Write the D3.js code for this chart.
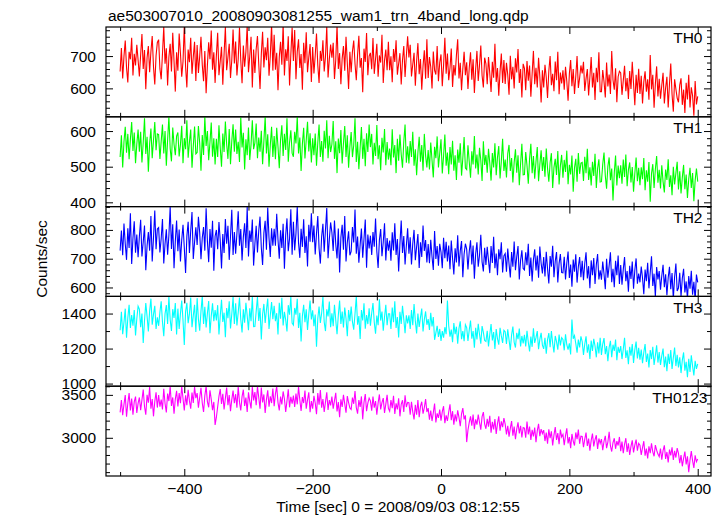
<!DOCTYPE html>
<html><head><meta charset="utf-8">
<script src="https://cdn.jsdelivr.net/npm/d3@7"></script>
<style>body{margin:0;background:#fff} svg text{font-family:"Liberation Sans",Arial,Helvetica,sans-serif}</style>
</head><body><svg id="c" width="724" height="516"></svg>
<script>
const chartTitle = "ae503007010_20080903081255_wam1_trn_4band_long.qdp";
const xLabel = "Time [sec] 0 = 2008/09/03 08:12:55";
const yLabel = "Counts/sec";
const panelNames = ["TH0", "TH1", "TH2", "TH3", "TH0123"];
const tStart = -500, tStep = 2;

const th0 = [
652,725,631,699,748,664,618,713,690,757,640,707,671,735,688,
637,704,768,660,719,597,695,731,650,714,762,667,612,701,742,
751,661,628,707,790,676,724,609,697,738,652,772,684,590,712,
655,770,709,636,683,795,668,603,720,681,757,645,698,744,623,
734,648,699,760,673,622,716,585,672,743,690,779,658,712,617,
703,772,641,684,729,611,707,790,656,696,738,632,688,782,677,
745,640,691,788,686,616,733,667,713,795,650,699,760,603,720,
648,721,762,676,598,706,775,665,727,687,757,639,701,798,655,
766,658,710,594,697,744,673,800,640,721,685,761,609,705,788,
685,781,628,713,752,663,706,596,741,678,774,650,696,737,620,
728,646,702,770,672,617,716,685,749,652,699,792,634,690,736,
695,741,629,688,795,660,709,613,693,731,655,760,678,598,713,
650,714,748,676,625,703,763,664,694,588,723,682,771,641,700,
710,659,756,645,691,738,636,702,680,766,617,687,720,656,744,
656,699,619,722,682,749,642,677,709,612,687,731,635,700,761,
696,735,637,674,710,608,684,740,644,691,596,669,718,630,752,
632,697,667,600,714,656,643,731,622,680,705,607,672,757,645,
708,625,663,723,604,672,640,702,752,631,679,594,661,713,641,
681,598,664,712,627,690,586,659,716,623,672,733,640,603,695,
676,613,697,646,589,682,633,738,620,663,577,652,708,617,688,
614,679,642,580,701,628,667,600,693,649,722,617,660,572,676,
662,594,685,624,671,574,645,716,613,664,603,695,636,556,656,
603,673,634,570,654,700,610,645,591,683,625,713,582,649,615,
656,596,667,622,562,645,688,607,660,583,637,700,601,632,671,
646,682,592,630,660,578,636,697,603,648,564,664,619,712,590,
590,657,621,572,680,606,643,583,716,626,596,662,557,636,653,
648,580,624,670,591,632,567,654,598,682,615,548,642,586,661,
583,639,553,620,653,590,628,565,703,597,642,540,614,668,575,
630,568,609,648,553,602,636,541,613,677,582,528,628,598,570,
557,610,631,549,596,524,617,566,642,541,603,578,515,623,550,
575];

const th1 = [
527,588,498,570,612,539,592,521,577,625,544,596,510,563,604,
542,598,512,568,636,536,584,486,565,607,524,574,625,546,592,
590,522,571,618,537,600,503,575,640,551,515,610,563,532,586,
596,529,562,615,510,580,549,630,525,569,604,497,557,613,536,
540,614,566,489,589,533,640,558,600,518,569,624,528,580,506,
578,527,616,553,500,593,541,627,563,522,606,507,572,619,542,
604,536,570,513,638,554,595,492,577,532,610,519,562,630,549,
567,621,524,582,542,601,507,571,640,537,591,500,560,612,527,
586,521,609,556,496,576,616,530,592,547,636,514,568,602,538,
528,598,565,640,537,582,488,564,609,523,575,626,543,594,512,
580,532,593,503,567,618,527,572,514,601,551,630,524,587,541,
563,628,522,571,482,579,538,603,509,565,614,527,588,497,556,
597,527,560,636,513,570,493,553,611,522,578,501,594,541,618,
555,592,506,567,530,617,521,560,490,581,540,606,504,569,520,
551,504,605,526,561,482,578,517,590,534,497,570,618,511,557,
509,572,527,598,503,549,476,540,584,514,561,489,592,531,498,
547,492,568,518,470,556,524,585,498,537,577,481,530,590,503,
540,479,555,506,573,489,532,463,548,511,566,475,524,583,496,
492,560,514,469,543,506,586,495,534,478,553,518,460,571,505,
533,483,550,510,461,538,498,566,476,526,558,467,515,578,488,
520,470,537,561,488,524,456,512,549,483,532,448,508,564,477,
478,541,503,452,522,564,482,530,466,514,555,459,506,546,488,
527,472,551,495,458,511,538,440,498,522,477,544,450,503,533,
469,519,485,545,451,505,478,531,430,497,522,458,538,480,510,
512,460,528,482,550,463,498,447,514,474,536,440,495,521,457,
458,507,540,475,438,501,526,462,495,405,483,531,447,503,468,
504,452,520,471,534,445,491,512,456,499,430,481,526,459,497,
448,498,465,524,434,490,458,513,402,481,507,440,493,530,455,
491,439,504,458,428,492,463,521,443,476,420,500,450,482,514,
436,487,425,470,505,437,478,412,465,497,440,482,403,461,495,
458];

const th2 = [
728,798,712,822,752,696,806,737,858,682,771,830,721,784,705,
777,835,708,758,815,660,745,793,728,848,690,772,867,733,803,
808,722,770,838,683,752,802,714,781,880,734,820,667,761,833,
726,801,690,765,818,738,650,778,828,720,797,862,699,758,809,
748,846,790,698,773,810,728,875,761,688,803,738,832,658,778,
800,733,827,763,666,786,720,838,752,814,696,777,870,713,793,
717,787,865,745,803,694,775,823,737,880,708,798,758,836,676,
751,814,722,797,846,739,678,789,832,731,878,772,706,806,745,
804,745,856,766,700,799,737,821,665,782,840,726,770,872,714,
828,729,788,880,755,703,804,741,837,720,778,673,818,759,858,
757,815,715,787,848,736,683,776,821,724,801,876,702,767,826,
791,727,833,750,701,805,652,774,818,731,848,690,757,795,712,
725,810,756,871,717,777,686,748,805,703,769,836,669,784,736,
780,713,793,742,840,725,668,765,803,709,757,823,694,772,728,
763,693,792,729,823,713,768,656,751,833,720,779,680,745,806,
717,774,680,753,800,695,742,786,668,757,706,815,727,765,687,
751,684,766,707,661,796,699,744,676,752,723,667,773,702,759,
690,746,663,763,701,645,736,687,781,673,727,761,636,716,752,
733,663,725,764,680,746,630,717,757,672,712,783,689,656,738,
678,741,694,650,744,685,776,667,718,643,733,698,757,652,710,
718,655,735,682,635,723,672,760,660,707,744,628,694,729,666,
661,722,677,752,640,704,621,696,733,659,711,634,742,684,649,
706,638,724,665,614,709,672,745,636,691,723,617,684,716,652,
651,707,628,684,725,633,680,603,697,655,715,617,672,706,636,
693,625,684,722,631,674,597,694,643,702,612,679,716,628,660,
627,690,647,594,700,634,676,722,618,665,601,693,643,711,612,
678,610,663,706,622,657,585,675,630,690,596,660,701,613,648,
618,673,633,577,662,622,686,597,652,708,605,648,568,671,628,
657,592,640,679,601,646,573,634,672,594,650,560,637,683,588,
598,651,568,632,665,583,621,560,640,596,658,575,620,556,645,
618];

const th3 = [
1305,1410,1282,1350,1428,1262,1375,1450,1318,1392,1330,1420,1275,1370,1442,
1425,1322,1400,1232,1360,1460,1384,1298,1414,1485,1336,1395,1444,1312,1378,
1330,1408,1470,1352,1270,1398,1448,1340,1497,1366,1300,1425,1375,1460,1280,
1428,1312,1400,1474,1360,1220,1410,1462,1345,1398,1492,1322,1388,1450,1295,
1488,1368,1302,1414,1498,1340,1438,1320,1400,1472,1288,1386,1458,1356,1420,
1360,1448,1280,1386,1478,1352,1405,1265,1432,1374,1470,1315,1396,1495,1340,
1458,1332,1406,1492,1366,1292,1424,1348,1462,1388,1305,1430,1356,1496,1325,
1326,1412,1495,1358,1432,1252,1395,1455,1346,1420,1486,1312,1390,1466,1368,
1444,1356,1402,1280,1462,1370,1490,1332,1410,1364,1298,1448,1394,1496,1346,
1334,1432,1394,1484,1318,1404,1240,1386,1450,1350,1424,1306,1398,1474,1366,
1418,1328,1394,1210,1370,1440,1346,1402,1494,1352,1300,1424,1384,1468,1322,
1402,1328,1450,1362,1282,1390,1475,1340,1412,1320,1434,1370,1270,1420,1356,
1440,1354,1308,1398,1497,1336,1386,1255,1420,1360,1458,1314,1392,1340,1430,
1330,1402,1460,1350,1285,1388,1334,1482,1360,1412,1302,1380,1450,1334,1398,
1398,1312,1434,1350,1470,1318,1380,1264,1410,1340,1444,1368,1288,1390,1344,
1390,1312,1420,1334,1455,1358,1286,1400,1324,1378,1428,1298,1366,1412,1336,
1368,1306,1404,1326,1380,1250,1290,1330,1266,1312,1244,1300,1262,1322,1282,
1475,1330,1268,1308,1236,1346,1282,1325,1228,1315,1356,1254,1300,1242,1336,
1320,1244,1306,1360,1256,1300,1205,1318,1252,1342,1282,1228,1328,1292,1246,
1240,1302,1212,1280,1340,1246,1294,1198,1312,1256,1222,1318,1272,1232,1304,
1296,1226,1310,1250,1192,1278,1326,1236,1206,1290,1254,1314,1212,1272,1230,
1278,1212,1302,1236,1184,1268,1210,1316,1232,1262,1300,1196,1252,1290,1220,
1198,1262,1170,1252,1288,1208,1300,1230,1178,1272,1240,1194,1280,1218,1262,
1252,1190,1282,1222,1194,1230,1166,1366,1256,1274,1230,1176,1252,1206,1270,
1240,1164,1226,1270,1176,1224,1140,1246,1186,1256,1214,1150,1236,1172,1262,
1164,1226,1260,1168,1214,1128,1206,1244,1150,1222,1186,1252,1134,1210,1176,
1214,1140,1196,1262,1146,1190,1110,1210,1160,1226,1118,1194,1240,1144,1204,
1136,1194,1116,1178,1226,1124,1172,1092,1192,1140,1210,1106,1160,1218,1120,
1180,1106,1158,1200,1094,1154,1070,1170,1112,1192,1084,1148,1206,1100,1164,
1092,1150,1060,1134,1178,1074,1124,1036,1142,1066,1162,1100,1046,1130,1084,
1112];

const th0123 = [
3296,3440,3262,3390,3498,3245,3402,3520,3318,3456,3270,3418,3480,3290,3400,
3470,3322,3440,3562,3365,3268,3500,3410,3590,3338,3452,3250,3422,3530,3352,
3498,3362,3445,3330,3572,3400,3296,3515,3428,3600,3372,3470,3280,3450,3548,
3365,3520,3402,3600,3458,3318,3495,3380,3560,3430,3340,3528,3405,3590,3462,
3520,3350,3470,3582,3405,3300,3490,3600,3422,3355,3552,3448,3322,3418,3150,
3240,3362,3482,3568,3395,3512,3330,3460,3585,3380,3498,3310,3445,3550,3402,
3508,3350,3596,3415,3318,3480,3560,3372,3468,3300,3530,3424,3342,3590,3436,
3532,3380,3600,3470,3338,3585,3412,3505,3288,3448,3552,3362,3482,3405,3575,
3368,3512,3598,3410,3320,3480,3388,3540,3455,3300,3430,3565,3355,3478,3398,
3492,3360,3515,3390,3595,3440,3312,3475,3405,3550,3338,3442,3530,3298,3428,
3340,3488,3405,3275,3522,3385,3555,3350,3452,3300,3418,3530,3325,3440,3378,
3480,3340,3432,3525,3306,3415,3240,3448,3360,3500,3395,3292,3485,3410,3348,
3330,3468,3396,3545,3352,3282,3440,3360,3482,3215,3412,3510,3310,3404,3462,
3430,3315,3480,3350,3428,3270,3405,3505,3330,3410,3462,3290,3392,3500,3342,
3310,3440,3345,3490,3278,3402,3330,3460,3250,3390,3438,3300,3495,3358,3412,
3408,3270,3420,3302,3215,3385,3268,3440,3240,3365,3420,3280,3352,3450,3300,
3345,3210,3318,3195,3292,3400,3180,3285,3232,3330,3200,3305,3368,3170,3262,
3196,3300,3390,3205,3310,3152,3274,3190,3320,3238,3135,3280,3345,3215,3262,
2950,3090,3180,3250,3140,3272,3100,3215,3152,3270,3180,3095,3246,3300,3160,
3105,3222,3130,3255,3060,3185,3098,3218,3045,3165,3250,3084,3192,3125,3230,
3160,3040,3140,3012,3110,3195,3025,3130,2985,3100,3180,3050,3140,3005,3120,
3112,3000,3190,3040,3130,2975,3092,3015,3120,2950,3080,3162,3020,3102,3050,
3090,2962,3060,2930,3100,2995,3075,2912,3032,3125,2975,3055,2925,3095,3010,
3040,2915,3025,3110,2935,3008,2880,3045,2962,2910,3062,2985,3095,2930,3018,
3015,2890,2985,3060,2905,2990,2850,2970,3050,2900,2980,3030,2870,2992,2935,
2985,2855,2960,3022,2880,2950,3070,2905,2840,2945,2995,2872,2962,2910,3010,
2845,2955,2820,2925,2995,2835,2935,2800,2900,2970,2830,2915,2980,2850,2935,
2915,2800,2885,2960,2792,2875,2760,2900,2820,2935,2835,2785,2915,2855,2810,
2780,2875,2745,2850,2912,2755,2835,2712,2862,2795,2890,2742,2848,2770,2880,
2820,2705,2800,2668,2760,2840,2690,2785,2600,2740,2845,2735,2650,2795,2720,
2752];

const yDomains = [[512, 790], [388, 640], [569, 881], [985, 1498], [2555, 3601]];
const yMajorTicks = [[600, 700], [400, 500, 600], [600, 700, 800], [1000, 1200, 1400], [3000, 3500]];
const yMinorSteps = [20, 20, 20, 100, 100];
const xMajorTicks = [-400, -200, 0, 200, 400];
const xMinorTicks = [-500, -300, -100, 100, 300];

const series = [th0, th1, th2, th3, th0123];
const colors = ["#ff0000", "#00ff00", "#0000ff", "#00ffff", "#ff00ff"];
const labelRight = [702.5, 702.5, 702.5, 702.5, 707.5];

const svg = d3.select("#c");
const L = 106, R = 711, T = 27, PH = 89.8;
const FONT = "15.5px";
const x = d3.scaleLinear().domain([-522, 420.7]).range([L, R]);

function clean(g) {
  g.select(".domain").remove();
  g.attr("font-family", null).attr("font-size", null);
  g.selectAll("line").attr("stroke", "#000").attr("stroke-width", 1);
  g.selectAll("text").attr("fill", "#000").style("font-size", FONT);
}

series.forEach((vals, i) => {
  const top = T + i * PH, bot = top + PH;
  const [lo, hi] = yDomains[i];
  const y = d3.scaleLinear().domain([lo, hi]).range([bot, top]);
  const g = svg.append("g");

  g.append("clipPath").attr("id", "clip" + i)
    .append("rect").attr("x", L).attr("y", top).attr("width", R - L).attr("height", PH);

  const line = d3.line().x((d, j) => x(tStart + j * tStep)).y(d => y(d));
  g.append("path").datum(vals).attr("d", line)
    .attr("clip-path", `url(#clip${i})`)
    .attr("fill", "none").attr("stroke", colors[i]).attr("stroke-width", 1.1);

  const step = yMinorSteps[i];
  const minor = d3.range(Math.ceil(lo / step) * step, hi, step).filter(v => !yMajorTicks[i].includes(v));

  g.append("g").attr("transform", `translate(${L},0)`)
    .call(d3.axisLeft(y).tickValues(minor).tickSize(-4).tickFormat("")).call(clean);
  g.append("g").attr("transform", `translate(${L},0)`)
    .call(d3.axisLeft(y).tickValues(yMajorTicks[i]).tickSize(-7).tickPadding(10).tickFormat(d3.format("d"))).call(clean);
  g.append("g").attr("transform", `translate(${R},0)`)
    .call(d3.axisRight(y).tickValues(minor).tickSize(-4).tickFormat("")).call(clean);
  g.append("g").attr("transform", `translate(${R},0)`)
    .call(d3.axisRight(y).tickValues(yMajorTicks[i]).tickSize(-7).tickFormat("")).call(clean);

  g.append("g").attr("transform", `translate(0,${top})`)
    .call(d3.axisTop(x).tickValues(xMinorTicks).tickSize(-4).tickFormat("")).call(clean);
  g.append("g").attr("transform", `translate(0,${top})`)
    .call(d3.axisTop(x).tickValues(xMajorTicks).tickSize(-7).tickFormat("")).call(clean);
  g.append("g").attr("transform", `translate(0,${bot})`)
    .call(d3.axisBottom(x).tickValues(xMinorTicks).tickSize(-4).tickFormat("")).call(clean);
  const last = i === series.length - 1;
  g.append("g").attr("transform", `translate(0,${bot})`)
    .call(d3.axisBottom(x).tickValues(xMajorTicks).tickSize(-7).tickPadding(7)
      .tickFormat(last ? d3.format("d") : "")).call(clean);

  g.append("rect").attr("x", L).attr("y", top).attr("width", R - L).attr("height", PH)
    .attr("fill", "none").attr("stroke", "#000").attr("stroke-width", 1.2);

  g.append("text").attr("x", labelRight[i]).attr("y", top + 16.3)
    .attr("text-anchor", "end").style("font-size", FONT).text(panelNames[i]);
});

svg.append("text").attr("x", 108).attr("y", 21).style("font-size", FONT).text(chartTitle);
svg.append("text").attr("x", 398).attr("y", 512).attr("text-anchor", "middle").style("font-size", FONT).text(xLabel);
svg.append("text").attr("transform", "translate(46.5,259) rotate(-90)").attr("text-anchor", "middle")
  .style("font-size", FONT).text(yLabel);
</script></body></html>
